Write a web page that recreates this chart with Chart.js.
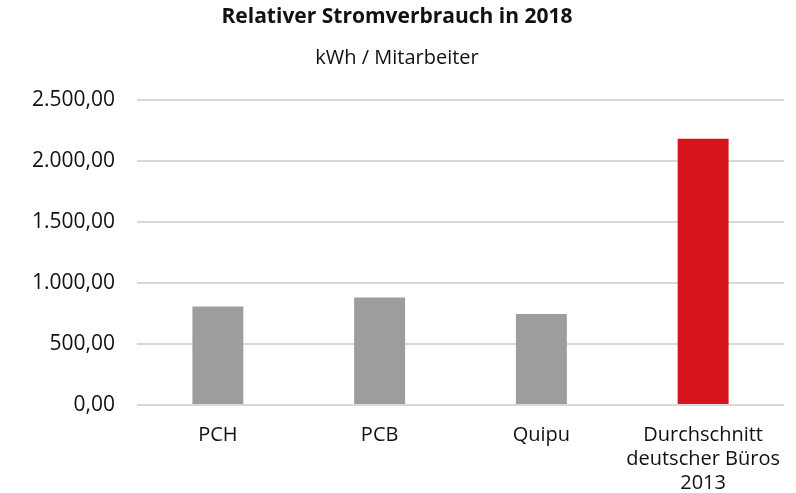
<!DOCTYPE html>
<html>
<head>
<meta charset="utf-8">
<script src="https://cdn.jsdelivr.net/npm/chart.js@4/dist/chart.umd.min.js"></script>
<style>
	html, body { margin: 0; padding: 0; background: #fff; }
	#wrap { width: 796px; height: 493px; }
</style>
</head>
<body>
<div id="wrap"><canvas id="chart"></canvas></div>
<script>
	'use strict';

	// chart data
	var categories = ['PCH', 'PCB', 'Quipu', ['Durchschnitt', 'deutscher Büros', '2013']];
	var verbrauch = [807, 881, 747, 2183];
	var barColors = ['#9d9d9c', '#9d9d9c', '#9d9d9c', '#d7151a'];
	var yTicks = [0, 500, 1000, 1500, 2000, 2500];
	var yTickLabels = ['0,00', '500,00', '1.000,00', '1.500,00', '2.000,00', '2.500,00'];

	var fontFamily = '"Open Sans", "Noto Sans", sans-serif';

	var ctx = document.getElementById('chart').getContext('2d');
	var chart = new Chart(ctx, {
		type: 'bar',
		data: {
			labels: categories,
			datasets: [{
				data: verbrauch,
				backgroundColor: barColors,
				borderWidth: 0,
				barPercentage: 0.315,
				categoryPercentage: 1
			}]
		},
		options: {
			responsive: true,
			maintainAspectRatio: false,
			animation: false,
			layout: { padding: { left: 10, right: 12, top: 4, bottom: -12 } },
			plugins: {
				legend: { display: false },
				tooltip: { enabled: false },
				title: {
					display: true,
					text: 'Relativer Stromverbrauch in 2018',
					color: '#111',
					font: { family: fontFamily, size: 21, weight: 'bold', lineHeight: 1.2 },
					padding: { top: 0, bottom: 17 }
				},
				subtitle: {
					display: true,
					text: 'kWh / Mitarbeiter',
					color: '#111',
					font: { family: fontFamily, size: 20, lineHeight: 1.2 },
					padding: { top: 0, bottom: 30 }
				}
			},
			scales: {
				x: {
					grid: { display: false },
					border: { display: false },
					ticks: {
						color: '#111',
						font: { family: fontFamily, size: 20, lineHeight: 1.2 },
						maxRotation: 0,
						padding: 10
					}
				},
				y: {
					min: 0,
					max: 2500,
					afterBuildTicks: function(axis) {
						axis.ticks = yTicks.map(function(v) { return { value: v }; });
					},
					grid: { color: '#d9d9d9', lineWidth: 2, drawTicks: false },
					border: { display: false },
					ticks: {
						color: '#111',
						font: { family: fontFamily, size: 21 },
						padding: 22,
						callback: function(value) {
							var i = yTicks.indexOf(value);
							return i >= 0 ? yTickLabels[i] : '';
						}
					}
				}
			}
		}
	});
</script>
</body>
</html>
